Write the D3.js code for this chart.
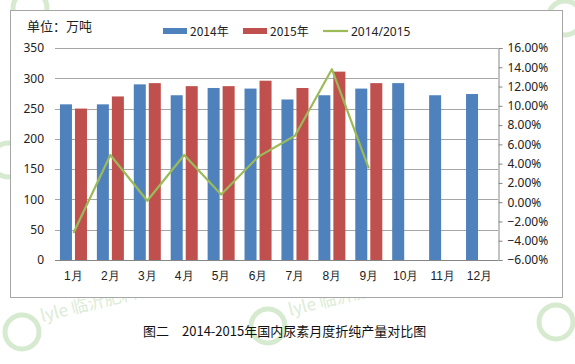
<!DOCTYPE html>
<html>
<head>
<meta charset="utf-8">
<script src="https://cdn.jsdelivr.net/npm/d3@7"></script>
<style>
  body { margin: 0; background: #fff; }
  svg { display: block; font-family: "Noto Sans CJK SC", "Noto Sans", sans-serif; }
</style>
</head>
<body>
<svg width="575" height="364"></svg>
<script>
const months = ['1月', '2月', '3月', '4月', '5月', '6月', '7月', '8月', '9月', '10月', '11月', '12月'];
const series = ['2014年', '2015年'];
const output2014 = [257, 257, 290, 272, 284, 283, 265, 272, 283, 292, 272, 274];
const output2015 = [250, 270, 292, 287, 287, 296, 284, 311, 292, null, null, null];
const ratio = [-3.2, 4.9, 0.15, 4.9, 0.8, 4.7, 6.9, 13.8, 3.5];
const leftTicks = [0, 50, 100, 150, 200, 250, 300, 350];
const rightTicks = [-6, -4, -2, 0, 2, 4, 6, 8, 10, 12, 14, 16];

const colors = { '2014年': '#4f81bd', '2015年': '#c0504d', line: '#9bbb59' };

const svg = d3.select('svg');
const plotL = 55, plotR = 498, plotT = 48, plotB = 260;

// faint watermarks
const wm = svg.append('g').attr('fill', 'none').attr('stroke', '#d6ead0').attr('stroke-width', 5);
[[22, 332], [268, 326], [556, 322], [8, 160], [565, 18], [30, 8]].forEach(([cx, cy]) => {
  wm.append('circle').attr('cx', cx).attr('cy', cy).attr('r', 17);
});
[[42, 322], [290, 316]].forEach(([tx, ty]) => {
  svg.append('text')
    .attr('transform', `translate(${tx},${ty}) rotate(-14)`)
    .attr('fill', '#dcecd6').attr('font-size', 17)
    .text('lyle 临沂肥料信息');
});

// frame
svg.append('rect')
  .attr('x', 10.5).attr('y', 10.5).attr('width', 552).attr('height', 287)
  .attr('fill', '#fff').attr('stroke', '#a6a6a6');

const x = d3.scaleBand().domain(months).range([plotL, plotR]).paddingInner(0.268).paddingOuter(0.134);
const x1 = d3.scaleBand().domain(series).range([0, x.bandwidth()]).paddingInner(0.2);
const y = d3.scaleLinear().domain([0, 350]).range([plotB, plotT]);
const y2 = d3.scaleLinear().domain([-6, 16]).range([plotB, plotT]);

// grid
svg.append('g').selectAll('line').data(leftTicks.slice(1)).join('line')
  .attr('x1', plotL).attr('x2', plotR)
  .attr('y1', d => Math.round(y(d)) + 0.5).attr('y2', d => Math.round(y(d)) + 0.5)
  .attr('stroke', '#a6a6a6');

// bars
const rows = months.map((m, i) => ({ m, vals: [output2014[i], output2015[i]] }));
const groups = svg.append('g').selectAll('g').data(rows).join('g')
  .attr('transform', d => `translate(${x(d.m)},0)`);
groups.selectAll('rect')
  .data(d => series.map((s, k) => ({ s, v: d.vals[k] })).filter(e => e.v != null))
  .join('rect')
  .attr('x', d => x1(d.s)).attr('width', x1.bandwidth())
  .attr('y', d => y(d.v)).attr('height', d => y(0) - y(d.v))
  .attr('fill', d => colors[d.s]);

// bottom axis line
svg.append('line').attr('x1', plotL).attr('x2', plotR)
  .attr('y1', plotB + 0.5).attr('y2', plotB + 0.5).attr('stroke', '#868686');

// line
const line = d3.line().x((d, i) => x(months[i]) + x.bandwidth() / 2).y(d => y2(d));
svg.append('path').datum(ratio)
  .attr('d', line).attr('fill', 'none')
  .attr('stroke', colors.line).attr('stroke-width', 2.2).attr('stroke-linejoin', 'round');

// left axis
const axL = svg.append('g').attr('transform', `translate(${plotL},0)`)
  .call(d3.axisLeft(y).tickValues(leftTicks).tickSize(0).tickPadding(11));
axL.select('.domain').remove();
axL.selectAll('text').attr('font-size', 12).attr('fill', '#222').attr('font-family', '"Noto Sans", sans-serif');

// right axis
const axR = svg.append('g').attr('transform', `translate(${plotR + 0.5},0)`)
  .call(d3.axisRight(y2).tickValues(rightTicks).tickSize(4).tickPadding(5)
    .tickFormat(d => d3.format('.2f')(d) + '%'));
axR.select('.domain').attr('stroke', '#868686');
axR.selectAll('.tick line').attr('stroke', '#868686');
axR.selectAll('text').attr('font-size', 12).attr('fill', '#222').attr('font-family', '"Noto Sans", sans-serif');

// bottom labels
const axB = svg.append('g').attr('transform', `translate(0,${plotB})`)
  .call(d3.axisBottom(x).tickSize(0).tickPadding(11));
axB.select('.domain').remove();
axB.selectAll('text').attr('font-size', 12).attr('fill', '#222');

// unit label
svg.append('text').attr('x', 27).attr('y', 31).attr('font-size', 13).attr('fill', '#222').text('单位：万吨');

// legend
const leg = svg.append('g').attr('font-size', 12).attr('fill', '#222');
[['2014年', 163], ['2015年', 243]].forEach(([s, lx]) => {
  leg.append('rect').attr('x', lx).attr('y', 28).attr('width', 24).attr('height', 6).attr('fill', colors[s]);
  leg.append('text').attr('x', lx + 27).attr('y', 35.5).text(s);
});
leg.append('line').attr('x1', 323).attr('x2', 348).attr('y1', 31).attr('y2', 31)
  .attr('stroke', colors.line).attr('stroke-width', 2.2);
leg.append('text').attr('x', 351).attr('y', 35.5).attr('font-family', '"Noto Sans", sans-serif').text('2014/2015');

// caption
svg.append('text').attr('x', 143).attr('y', 336).attr('font-size', 13).attr('fill', '#111')
  .text('图二　2014-2015年国内尿素月度折纯产量对比图');
</script>
</body>
</html>
